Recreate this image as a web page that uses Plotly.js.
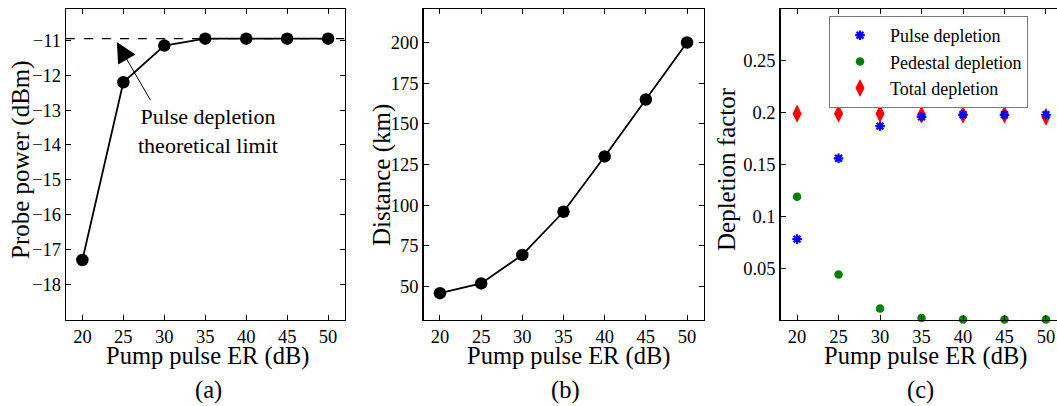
<!DOCTYPE html>
<html>
<head>
<meta charset="utf-8">
<script src="https://cdn.plot.ly/plotly-3.0.1.min.js"></script>
<style>html,body{margin:0;padding:0;background:#fff;}#chart{width:1057px;height:406px;}</style>
</head>
<body>
<div id="chart"></div>
<script>
// Data
const erValues = [20, 25, 30, 35, 40, 45, 50];
const probePower = [-17.3, -12.2, -11.15, -10.95, -10.95, -10.95, -10.95];
const depletionLimit = -10.95;
const distanceKm = [46, 52, 69.5, 96, 130, 165, 200];
const pulseDepletion = [0.078, 0.156, 0.187, 0.196, 0.198, 0.198, 0.198];
const pedestalDepletion = [0.119, 0.044, 0.011, 0.002, 0.0005, 0.0005, 0.0005];
const totalDepletion = [0.199, 0.199, 0.199, 0.198, 0.198, 0.198, 0.196];
const xTicks = [20, 25, 30, 35, 40, 45, 50];
const probeTicks = [-18, -17, -16, -15, -14, -13, -12, -11];
const distTicks = [50, 75, 100, 125, 150, 175, 200];
const depTicks = [0.05, 0.1, 0.15, 0.2, 0.25];
const depTickText = ['0.05', '0.1', '0.15', '0.2', '0.25'];

const W = 1057, H = 406;
const FONT = 'Liberation Serif';
const px = v => v / W;
const py = v => (H - v) / H;

const mkAxis = (extra) => Object.assign({
  showgrid: false, zeroline: false, showline: true, linecolor: '#000', linewidth: 1.2,
  ticks: 'inside', ticklen: 5, tickcolor: '#000', tickwidth: 1,
  tickfont: {family: FONT, size: 18.5, color: '#000'},
  mirror: 'ticks'
}, extra);

const lineTrace = (x, y, xa, ya) => ({
  x: x, y: y, xaxis: xa, yaxis: ya, type: 'scatter', mode: 'lines+markers',
  line: {color: '#000', width: 1.8},
  marker: {color: '#000', size: 12.5, symbol: 'circle'},
  showlegend: false, hoverinfo: 'skip'
});

const traces = [
  lineTrace(erValues, probePower, 'x', 'y'),
  lineTrace(erValues, distanceKm, 'x2', 'y2'),
  {x: erValues, y: totalDepletion, xaxis: 'x3', yaxis: 'y3', type: 'scatter', mode: 'markers',
   name: 'Total depletion', legendrank: 3,
   marker: {color: '#ff0000', size: 13, symbol: 'diamond-tall'}},
  {x: erValues, y: pedestalDepletion, xaxis: 'x3', yaxis: 'y3', type: 'scatter', mode: 'markers',
   name: 'Pedestal depletion', legendrank: 2, cliponaxis: false,
   marker: {color: '#008000', size: 8.5, symbol: 'circle'}},
  {x: erValues, y: pulseDepletion, xaxis: 'x3', yaxis: 'y3', type: 'scatter', mode: 'markers',
   name: 'Pulse depletion', legendrank: 1,
   marker: {color: '#0000ff', size: 8, symbol: 'asterisk-open', line: {color: '#0000ff', width: 2.2}}}
];

const yDom = [py(320), py(9)];

const label = (x, y, text, size, angle) => ({
  xref: 'paper', yref: 'paper', x: px(x), y: py(y), xanchor: 'center', yanchor: 'middle',
  text: text, showarrow: false, textangle: angle || 0,
  font: {family: FONT, size: size, color: '#000'}
});

const layout = {
  width: W, height: H,
  margin: {l: 0, r: 0, t: 0, b: 0},
  paper_bgcolor: '#fff', plot_bgcolor: '#fff',
  font: {family: FONT, color: '#000', size: 19},
  xaxis: mkAxis({domain: [px(66), px(344.5)], range: [18, 52], tickvals: xTicks, anchor: 'y'}),
  yaxis: mkAxis({domain: yDom, range: [-19.02, -10.1], tickvals: probeTicks, anchor: 'x'}),
  xaxis2: mkAxis({domain: [px(423.5), px(703.5)], range: [18, 52], tickvals: xTicks, anchor: 'y2'}),
  yaxis2: mkAxis({domain: yDom, range: [29.5, 220.6], tickvals: distTicks, anchor: 'x2'}),
  xaxis3: mkAxis({domain: [px(780.5), 1], range: [18, 51.33], tickvals: xTicks, anchor: 'y3'}),
  yaxis3: mkAxis({domain: yDom, range: [0, 0.3], tickvals: depTicks, ticktext: depTickText, anchor: 'x3', mirror: false}),
  showlegend: true,
  legend: {
    x: px(829), y: py(16), xanchor: 'left', yanchor: 'top',
    bgcolor: '#fff', bordercolor: '#777', borderwidth: 1,
    font: {family: FONT, size: 18, color: '#000'},
    traceorder: 'normal', itemwidth: 50, tracegroupgap: 0
  },
  shapes: [
    {type: 'line', xref: 'x', yref: 'y', x0: 18, x1: 52, y0: depletionLimit, y1: depletionLimit,
     line: {color: '#000', width: 1.3, dash: 'dash'}, layer: 'below'}
  ],
  annotations: [
    {xref: 'x', yref: 'y', x: 24.2, y: -11.05, ax: 28.4, ay: -12.75, axref: 'x', ayref: 'y',
     text: '', showarrow: true, arrowhead: 2, arrowsize: 4, arrowwidth: 1, arrowcolor: '#000', standoff: 0},
    {xref: 'x', yref: 'y', x: 35.3, y: -13.6, xanchor: 'center', yanchor: 'middle',
     text: 'Pulse depletion<br>theoretical limit', showarrow: false,
     font: {family: FONT, size: 22, color: '#000'}, align: 'center'},
    label(208, 356, 'Pump pulse ER (dB)', 24.5),
    label(569, 356, 'Pump pulse ER (dB)', 24.5),
    label(926, 356, 'Pump pulse ER (dB)', 24.5),
    label(21, 160, 'Probe power (dBm)', 25, -90),
    label(382, 175, 'Distance (km)', 25, -90),
    label(726, 169, 'Depletion factor', 25, -90),
    label(208, 390, '(a)', 24.5),
    label(565, 390, '(b)', 24.5),
    label(920, 390, '(c)', 24.5)
  ]
};

Plotly.newPlot('chart', traces, layout, {staticPlot: true, displayModeBar: false});
</script>
</body>
</html>
